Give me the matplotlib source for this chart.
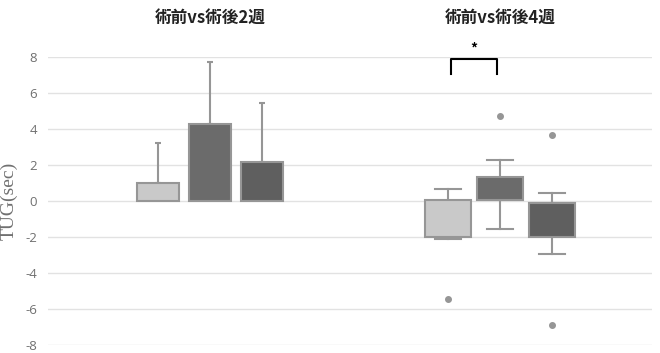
import matplotlib
matplotlib.use("Agg")
import matplotlib.pyplot as plt
import numpy as np

plt.rcParams['font.family'] = ['Noto Sans CJK JP', 'DejaVu Sans']

# Data
group_titles = ["術前vs術後2週", "術前vs術後4週"]
bar_means = [1.0, 4.25, 2.14]
bar_sd = [2.2, 3.45, 3.31]

box_whislo = [-2.1, -1.57, -2.94]
box_q1 = [-2.03, 0.05, -2.01]
box_med = [-0.78, 0.37, -0.44]
box_q3 = [0.05, 1.33, -0.1]
box_whishi = [0.66, 2.25, 0.43]
box_fliers = [[-5.45], [4.69], [3.66, -6.89]]

yticks = [-8, -6, -4, -2, 0, 2, 4, 6, 8]
ylabel = "TUG(sec)"
sig_label = "*"

fill_colors = ["#c9c9c9", "#6b6b6b", "#5f5f5f"]
edge_color = "#969696"

fig = plt.figure(figsize=(6.6, 3.53), dpi=100)
ax = fig.add_axes([0.0727, 0.0227, 0.9152, 0.8163])

offsets = np.array([-0.18, 0.0, 0.18])
left_c, right_c = 0.0, 1.0

# Bars with upper error bars
bx = left_c + offsets
ax.bar(bx, bar_means, width=0.145, color=fill_colors, edgecolor=edge_color,
       linewidth=1.5, zorder=3)
ax.errorbar(bx, bar_means, yerr=[np.zeros(3), bar_sd], fmt='none',
            ecolor=edge_color, elinewidth=1.5, capsize=2, capthick=1.5, zorder=2)

# Box plots
stats = []
for i in range(3):
    stats.append(dict(med=box_med[i], q1=box_q1[i], q3=box_q3[i],
                      whislo=box_whislo[i], whishi=box_whishi[i],
                      fliers=box_fliers[i]))
pos = right_c + offsets
bp = ax.bxp(stats, positions=pos, widths=0.16, patch_artist=True,
            showfliers=True, manage_ticks=False,
            boxprops=dict(edgecolor=edge_color, linewidth=1.5),
            medianprops=dict(color=edge_color, linewidth=1.5),
            whiskerprops=dict(color=edge_color, linewidth=1.5),
            capprops=dict(color=edge_color, linewidth=1.5),
            flierprops=dict(marker='o', markersize=4, markerfacecolor=edge_color,
                            markeredgecolor=edge_color))
for patch, c in zip(bp['boxes'], fill_colors):
    patch.set_facecolor(c)
    patch.set_zorder(3)
for cap in bp['caps']:
    x = cap.get_xdata()
    m = x.mean()
    cap.set_xdata([m - 0.045, m + 0.045])

# Significance bracket
x1, x2 = pos[0] + 0.01, pos[1] - 0.01
ax.plot([x1, x1, x2, x2], [7.05, 7.9, 7.9, 7.05], color='black', lw=1.5,
        clip_on=False, zorder=4)
ax.text((x1 + x2) / 2, 8.05, sig_label, ha='center', va='bottom', fontsize=10,
        fontweight='bold', clip_on=False)

ax.set_xlim(-0.559, 1.524)
ax.set_ylim(-8, 8)
ax.set_yticks(yticks)
ax.set_yticklabels([str(t) for t in yticks], color='#707070', fontsize=9.5,
                   family=['Open Sans', 'DejaVu Sans'])
ax.set_xticks([])
ax.tick_params(axis='y', length=0, pad=8)
for s in ax.spines.values():
    s.set_visible(False)
ax.yaxis.grid(True, color='#e2e2e2', linewidth=1, zorder=0)
ax.set_axisbelow(True)
ax.set_ylabel(ylabel, family=['Liberation Serif', 'DejaVu Serif'], fontsize=14,
              color='#707070', va='center')
ax.yaxis.set_label_coords(-0.064, 0.5)

for c, t in zip([left_c, right_c], group_titles):
    ax.text(c, 1.135, t, transform=ax.get_xaxis_transform(), ha='center',
            va='center', fontsize=12, fontweight='bold', color='#222222')

fig.savefig("out.png", dpi=100)
